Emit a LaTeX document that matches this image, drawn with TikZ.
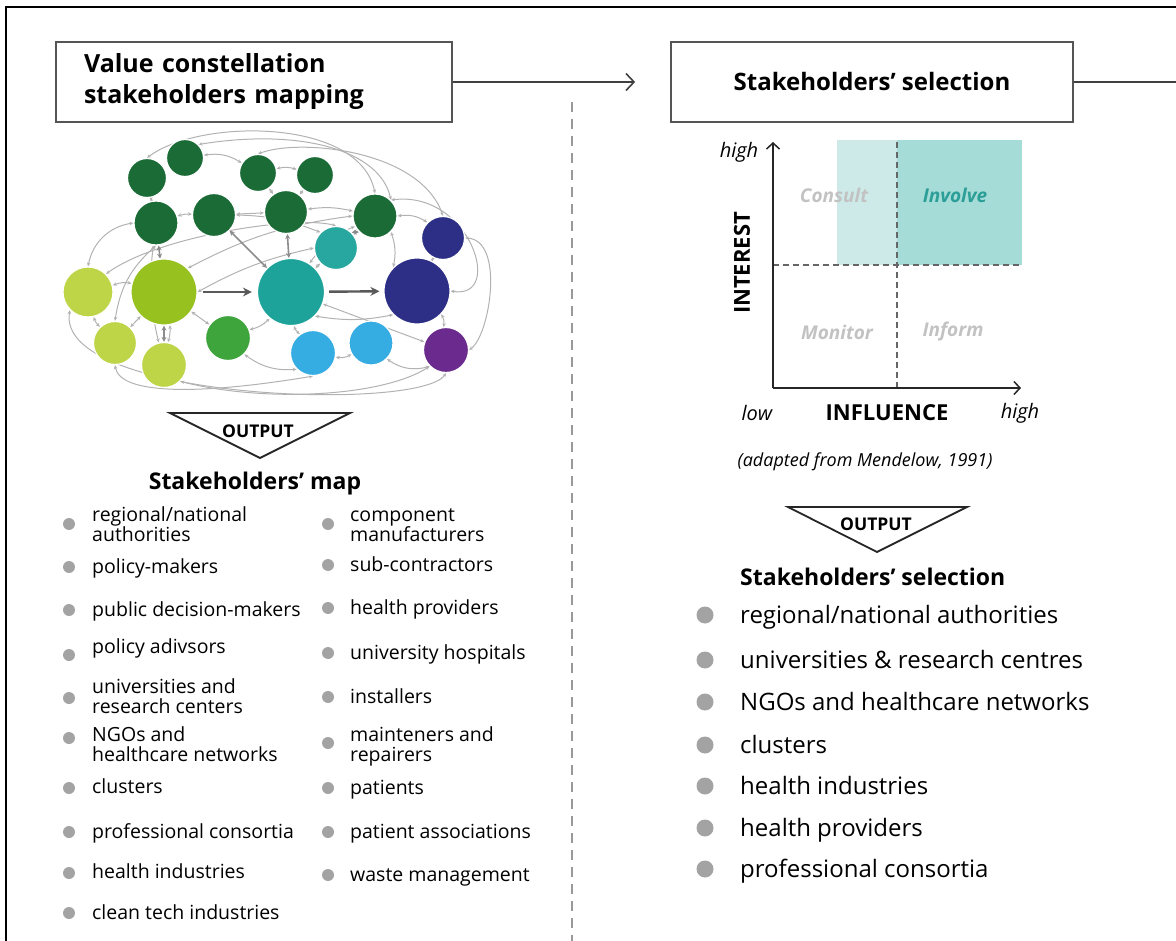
\documentclass[tikz,border=0pt]{standalone}
\usepackage{fontspec}
\setmainfont{Open Sans}
\usetikzlibrary{arrows.meta,backgrounds,calc}

\definecolor{dkgreen}{HTML}{1B6B36}
\definecolor{limec}{HTML}{96C11F}
\definecolor{limelt}{HTML}{BDD547}
\definecolor{midgreen}{HTML}{3DA53B}
\definecolor{tealc}{HTML}{1DA39A}
\definecolor{tealsm}{HTML}{27A79F}
\definecolor{navyc}{HTML}{2C2F85}
\definecolor{skyb}{HTML}{35ACE2}
\definecolor{purp}{HTML}{6B2A8D}
\definecolor{lightteal}{HTML}{CDEAE8}
\definecolor{midteal}{HTML}{A6DCD7}
\definecolor{involvetxt}{HTML}{2B9E97}
\definecolor{quadgray}{HTML}{C2C2C2}
\definecolor{bulletgray}{HTML}{A3A3A3}
\definecolor{boxline}{HTML}{555555}

\newcommand{\twoln}[2]{\begin{tabular}[t]{@{}l@{}}#1\\#2\end{tabular}}

\tikzset{
  frameline/.style={line width=2.5pt, black},
  headbox/.style={draw=boxline, line width=1.8pt, minimum height=80pt, inner sep=0pt},
  flowarrow/.style={draw=black!75, line width=1.8pt, -{Straight Barb[length=8pt,width=17pt,line width=1.6pt]}},
  divider/.style={draw=black!40, line width=1.4pt, dash pattern=on 10pt off 7pt},
  blob/.style={circle, fill=#1, draw=white, line width=1.2pt, inner sep=0pt},
  link/.style={draw=black!30, line width=1pt, {Stealth[length=4pt,width=3.5pt]}-{Stealth[length=4pt,width=3.5pt]}},
  dlink/.style={draw=black!45, line width=1.6pt, {Stealth[length=5pt,width=5pt]}-{Stealth[length=5pt,width=5pt]}},
  bigarrow/.style={draw=black!65, line width=2.4pt, -{Stealth[length=9pt,width=9pt]}},
  outtri/.style={draw=black!85, line width=1.8pt, line join=miter},
  outtext/.style={font=\fontsize{17.5}{19}\selectfont\bfseries, inner sep=0pt},
  listhead/.style={font=\fontsize{23}{26}\selectfont\bfseries, inner sep=0pt},
  litem/.style={anchor=base west, inner sep=0pt, font=\fontsize{19.5}{19}\selectfont},
  ritem/.style={anchor=base west, inner sep=0pt, font=\fontsize{24}{28}\selectfont},
  ldot/.style={circle, fill=bulletgray, minimum size=12pt, inner sep=0pt},
  rdot/.style={circle, fill=bulletgray, minimum size=17pt, inner sep=0pt},
  axis/.style={draw=black!85, line width=1.8pt, -{Straight Barb[length=6pt,width=13pt,line width=1.5pt]}},
  quadline/.style={draw=black!60, line width=1.4pt, dash pattern=on 6pt off 4pt},
  quad/.style={font=\fontsize{19}{21}\selectfont\bfseries\itshape, text=quadgray, inner sep=0pt},
  axlabel/.style={font=\fontsize{22}{24}\selectfont\bfseries, inner sep=0pt},
  axend/.style={font=\fontsize{20}{22}\selectfont\itshape, inner sep=0pt},
}

\begin{document}
\begin{tikzpicture}[x=1pt,y=-1pt]
\useasboundingbox (0,0) rectangle (1176,941);

% outer frame (top and left edges)
\coordinate (frTL) at (6,7);
\coordinate (frTR) at (1176,7);
\coordinate (frBL) at (6,941);
\draw[frameline] (frTR) -- (frTL) -- (frBL);

% process header boxes
\node[headbox, minimum width=396pt, text width=340pt, align=left,
      font=\fontsize{25}{31}\selectfont\bfseries] (box1) at (254,82)
      {Value constellation\\stakeholders mapping};
\node[headbox, minimum width=402pt, font=\fontsize{24}{28}\selectfont\bfseries] (box2) at (872,82)
      {Stakeholders’ selection};
\coordinate (nextstep) at (1176,82);
\draw[flowarrow, shorten >=35pt] (box1.east) -- (box2.west);
\draw[draw=black!75, line width=1.8pt] (box2.east) -- (nextstep);

% column divider
\coordinate (divtop) at (572,102);
\coordinate (divbot) at (572,941);
\draw[divider] (divtop) -- (divbot);

% ---------- value constellation network ----------
\node[blob=dkgreen, minimum size=37pt] (g1) at (185,158) {};
\node[blob=dkgreen, minimum size=39pt] (g2) at (147,178) {};
\node[blob=dkgreen, minimum size=37pt] (g3) at (258,173) {};
\node[blob=dkgreen, minimum size=37pt] (g4) at (315,175) {};
\node[blob=dkgreen, minimum size=44pt] (g5) at (156,223) {};
\node[blob=dkgreen, minimum size=43pt] (g6) at (214,215) {};
\node[blob=dkgreen, minimum size=43pt] (g7) at (286,212) {};
\node[blob=dkgreen, minimum size=44pt] (g8) at (375,216) {};
\node[blob=tealsm, minimum size=43pt] (tS) at (336,248) {};
\node[blob=navyc, minimum size=43pt] (nS) at (443,238) {};
\node[blob=limelt, minimum size=50pt] (lA) at (88,292) {};
\node[blob=limec, minimum size=66pt] (lB) at (164,292) {};
\node[blob=tealc, minimum size=67pt] (tB) at (291,292) {};
\node[blob=navyc, minimum size=66pt] (nB) at (417,291) {};
\node[blob=limelt, minimum size=43pt] (lC) at (115,343) {};
\node[blob=limelt, minimum size=45pt] (lD) at (164,365) {};
\node[blob=midgreen, minimum size=45pt] (gM) at (228,338) {};
\node[blob=skyb, minimum size=45pt] (bA) at (313,353) {};
\node[blob=skyb, minimum size=44pt] (bB) at (371,343) {};
\node[blob=purp, minimum size=45pt] (pu) at (446,350) {};

\begin{scope}[on background layer]
  % short two-way ties
  \draw[link] (g3) to[bend left=15] (g4);
  \draw[link] (g4) -- (g7);
  \draw[link] (g3) -- (g7);
  \draw[link] (g7) to[bend left=10] (g8);
  \draw[link] (g2) -- (g5);
  \draw[link] (g1) to[bend left=20] (g3);
  \draw[link] (g6) -- (g7);
  \draw[link] (g5) to[bend left=10] (g6);
  \draw[link] (lA) to[bend left=15] (lB);
  \draw[link] (lA.north) to[bend left=35] (g5.west);
  \draw[link] (lA) to[bend right=15] (lC);
  \draw[link] (lB) -- (lC);
  \draw[link] (lB) to[bend left=10] (lD);
  \draw[link] (lB) -- (gM);
  \draw[link] (gM) to[bend right=15] (tB);
  \draw[link] (gM.south east) to[bend right=20] (bA.south west);
  \draw[link] (bA) to[bend right=20] (bB);
  \draw[link] (bA) to[bend left=15] (tB);
  \draw[link] (bB.south east) to[bend right=25] (pu.south west);
  \draw[link] (tB) -- (pu);
  \draw[link] (nS) -- (nB);
  \draw[link] (nB) to[bend left=20] (pu);
  \draw[link] (tS) -- (tB);
  \draw[link] (g8) to[bend right=15] (tB);
  \draw[link] (g8.east) to[bend left=20] (nS.north west);
  \draw[link] (lB.north east) to[bend left=10] (g8.west);
  \draw[link] (lB.east) to[bend left=8] (tS.west);
  \draw[link] (tB.south east) to[bend right=10] (nB.south west);
  \draw[link] (g8.south east) to[bend left=15] (nB.north west);
  \draw[link] (g6.east) to[bend left=10] (tS.north west);
  \draw[link] (g5.south) to[bend right=20] (lC.north);
  \draw[link] (g5) to[bend right=10] (lD);
  % wide arcs around the map
  \draw[link] (g2.north) .. controls (200,118) and (360,118) .. (g8.north);
  \draw[link] (g1.north east) .. controls (300,128) and (380,150) .. (g8.north east);
  \draw[link] (g3.north) .. controls (300,138) and (420,150) .. (nS.north);
  \draw[link] (nS.east) .. controls (505,240) and (490,335) .. (pu.east);
  \draw[link] (g8.north east) .. controls (470,190) and (505,300) .. (nB.east);
  \draw[link] (lA.south west) .. controls (55,400) and (420,412) .. (pu.south);
  \draw[link] (lD.south east) .. controls (260,402) and (380,398) .. (pu.south west);
  \draw[link] (lC.south) .. controls (120,395) and (200,395) .. (bA.south);
  \draw[link] (lA.north east) .. controls (160,235) and (300,215) .. (tS.north);
  % stronger two-way ties
  \draw[dlink] (g5) -- (lB);
  \draw[dlink] (g7) -- (tB);
  \draw[dlink] (g6.south east) -- (tB.north west);
  \draw[dlink] (g8.south west) -- (tS.north east);
  \draw[dlink] (lB.south) -- (lD.north);
  % main value flow
  \draw[bigarrow, shorten <=5pt, shorten >=5pt] (lB) -- (tB);
  \draw[bigarrow, shorten <=4pt, shorten >=4pt] (tB) -- (nB);
\end{scope}

% output marker, left column
\coordinate (t1a) at (170,413);
\coordinate (t1b) at (350,413);
\coordinate (t1c) at (260,458);
\draw[outtri] (t1a) -- (t1b) -- (t1c) -- cycle;
\node[outtext] (out1) at (258,431) {OUTPUT};
\node[listhead] (maphead) at (255,484) {Stakeholders’ map};

% stakeholders' map, first column
\node[ldot] (d1) at (69,524) {};
\node[litem] (i1) at (92,521) {\twoln{regional/national}{authorities}};
\node[ldot] (d2) at (69,567) {};
\node[litem] (i2) at (92,573) {policy-makers};
\node[ldot] (d3) at (69,610) {};
\node[litem] (i3) at (92,616) {public decision-makers};
\node[ldot] (d4) at (69,655) {};
\node[litem] (i4) at (92,653) {policy adivsors};
\node[ldot] (d5) at (69,698) {};
\node[litem] (i5) at (92,693) {\twoln{universities and}{research centers}};
\node[ldot] (d6) at (69,738) {};
\node[litem] (i6) at (92,741) {\twoln{NGOs and}{healthcare networks}};
\node[ldot] (d7) at (69,788) {};
\node[litem] (i7) at (92,793) {clusters};
\node[ldot] (d8) at (69,832) {};
\node[litem] (i8) at (92,838) {professional consortia};
\node[ldot] (d9) at (69,873) {};
\node[litem] (i9) at (92,878) {health industries};
\node[ldot] (d10) at (69,913) {};
\node[litem] (i10) at (92,919) {clean tech industries};

% stakeholders' map, second column
\node[ldot] (e1) at (328,524) {};
\node[litem] (j1) at (350,521) {\twoln{component}{manufacturers}};
\node[ldot] (e2) at (328,565) {};
\node[litem] (j2) at (350,571) {sub-contractors};
\node[ldot] (e3) at (328,608) {};
\node[litem] (j3) at (350,614) {health providers};
\node[ldot] (e4) at (328,653) {};
\node[litem] (j4) at (350,659) {university hospitals};
\node[ldot] (e5) at (328,697) {};
\node[litem] (j5) at (350,703) {installers};
\node[ldot] (e6) at (328,743) {};
\node[litem] (j6) at (350,741) {\twoln{mainteners and}{repairers}};
\node[ldot] (e7) at (328,788) {};
\node[litem] (j7) at (350,794) {patients};
\node[ldot] (e8) at (328,832) {};
\node[litem] (j8) at (350,838) {patient associations};
\node[ldot] (e9) at (328,875) {};
\node[litem] (j9) at (350,881) {waste management};

% ---------- interest / influence matrix ----------
\fill[lightteal] (837,140) rectangle (897,265);
\fill[midteal] (897,140) rectangle (1022,265);
\coordinate (orig) at (773,388);
\coordinate (ytop) at (773,142);
\coordinate (xend) at (1021,388);
\coordinate (vtop) at (897,142);
\coordinate (vbot) at (897,388);
\coordinate (hl) at (773,265);
\coordinate (hr) at (1022,265);
\draw[quadline] (vtop) -- (vbot);
\draw[quadline] (hl) -- (hr);
\draw[axis] (orig) -- (ytop);
\draw[axis] (orig) -- (xend);

\node[quad] (consult) at (834,195) {Consult};
\node[quad, text=involvetxt] (involve) at (955,195) {Involve};
\node[quad] (monitor) at (837,332) {Monitor};
\node[quad] (inform) at (953,332) {Inform};

\node[axlabel, rotate=90] (interest) at (742,263) {INTEREST};
\node[axlabel] (influence) at (887,413) {INFLUENCE};
\node[axend] (yhigh) at (739,152) {high};
\node[axend] (xlow) at (757,413) {low};
\node[axend] (xhigh) at (1020,413) {high};
\node[font=\fontsize{18}{20}\selectfont\itshape, inner sep=0pt] (source) at (865,462)
     {(adapted from Mendelow, 1991)};

% output marker, right column
\coordinate (t2a) at (788,507);
\coordinate (t2b) at (967,507);
\coordinate (t2c) at (877,552);
\draw[outtri] (t2a) -- (t2b) -- (t2c) -- cycle;
\node[outtext] (out2) at (876,524) {OUTPUT};
\node[listhead, anchor=west] (selhead) at (740,577) {Stakeholders’ selection};

% selected stakeholders
\node[rdot] (s1) at (705,615) {};
\node[ritem] (r1) at (740,623) {regional/national authorities};
\node[rdot] (s2) at (705,660) {};
\node[ritem] (r2) at (740,668) {universities \& research centres};
\node[rdot] (s3) at (705,702) {};
\node[ritem] (r3) at (740,710) {NGOs and healthcare networks};
\node[rdot] (s4) at (705,745) {};
\node[ritem] (r4) at (740,753) {clusters};
\node[rdot] (s5) at (705,786) {};
\node[ritem] (r5) at (740,794) {health industries};
\node[rdot] (s6) at (705,828) {};
\node[ritem] (r6) at (740,836) {health providers};
\node[rdot] (s7) at (705,869) {};
\node[ritem] (r7) at (740,877) {professional consortia};
\end{tikzpicture}
\end{document}
